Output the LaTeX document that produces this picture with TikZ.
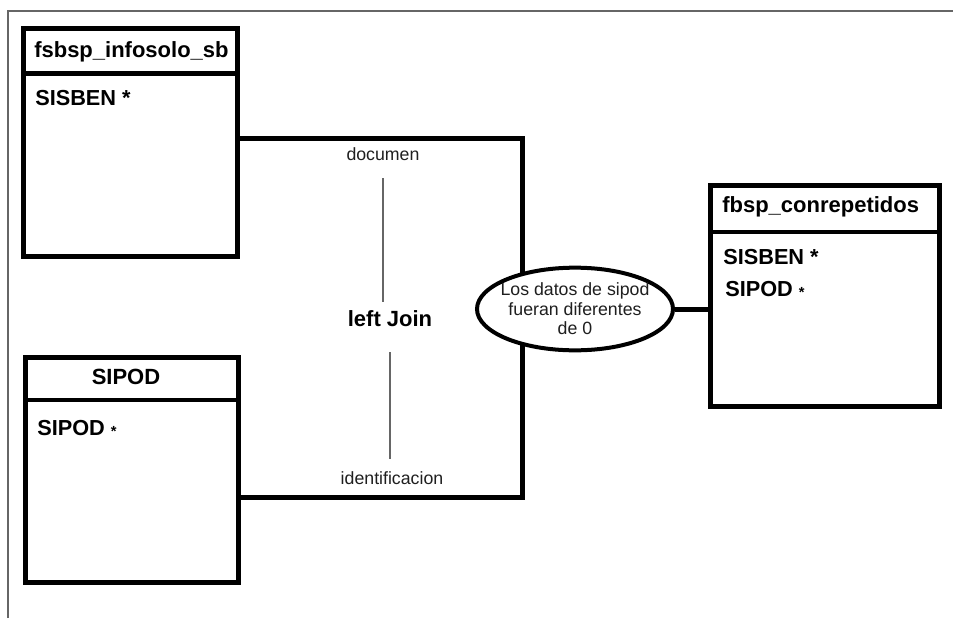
\documentclass[tikz,border=0pt]{standalone}
\usepackage{fontspec}
\setmainfont{Liberation Sans}
\usetikzlibrary{shapes.geometric,fit,backgrounds}
\newcommand{\keystar}{\raisebox{-0.1ex}{\fontsize{11}{11}\selectfont *}}
\begin{document}
\begin{tikzpicture}[x=0.75pt, y=-0.75pt,
  tablebox/.style={draw, line width=3.5pt, inner sep=0pt},
  titletext/.style={font=\bfseries\fontsize{16.5}{19}\selectfont, anchor=west, inner sep=0pt},
  fieldtext/.style={font=\bfseries\fontsize{16.3}{19}\selectfont, anchor=west, inner sep=0pt},
  joinlabel/.style={font=\fontsize{13.3}{15}\selectfont, text=black!88, inner sep=0pt},
  conn/.style={line width=3.75pt},
  thinline/.style={black!60, line width=0.8pt},
  frameline/.style={black!60, line width=1.2pt},
  condition/.style={draw, ellipse, line width=3pt, fill=white, minimum width=147pt,
    minimum height=62pt, inner xsep=-5pt, inner ysep=0pt, align=center,
    font=\fontsize{13.3}{14.6}\selectfont, text=black!88}]
  \useasboundingbox (0,0) rectangle (953,618);

  % Ramka
  \draw[frameline] (8,618) -- (8,11) -- (953,11);

  % Tabla fsbsp_infosolo_sb
  \node[tablebox, fit={(23.5,28.5) (237.5,256.5)}] (infosolo) {};
  \node[tablebox, fit={(23.5,28.5) (237.5,73.5)}] (infosolohead) {};
  \node[titletext] (infosolotitle) at (34,52) {fsbsp\_infosolo\_sb};
  \node[fieldtext] (infosolosisben) at (35,98) {SISBEN *};

  % Tabla SIPOD
  \node[tablebox, fit={(25.5,357.5) (238.5,582.5)}] (sipod) {};
  \node[tablebox, fit={(25.5,357.5) (238.5,400)}] (sipodhead) {};
  \node[titletext, anchor=center] (sipodtitle) at (126,377) {SIPOD};
  \node[fieldtext] (sipodfield) at (37,428) {SIPOD \keystar};

  % Tabla fbsp_conrepetidos
  \node[tablebox, fit={(710.5,185.5) (939.5,406.5)}] (conrep) {};
  \node[tablebox, fit={(710.5,185.5) (939.5,232)}] (conrephead) {};
  \node[titletext] (conreptitle) at (722,207) {fbsp\_conrepetidos};
  \node[fieldtext] (conrepsisben) at (723,257) {SISBEN *};
  \node[fieldtext] (conrepsipod) at (725,289) {SIPOD \keystar};

  % Condicion
  \node[condition] (cond) at (575,309) {Los datos de sipod\\fueran diferentes\\de 0};

  % Etiquetas del join
  \node[joinlabel] (documen) at (383,154) {documen};
  \node[font=\bfseries\fontsize{16.5}{19}\selectfont, inner sep=0pt] (leftjoin) at (390,319) {left Join};
  \node[joinlabel] (identif) at (392,478) {identificacion};
  \draw[thinline, shorten <=13pt, shorten >=6.75pt] (documen.south) -- (documen.south |- leftjoin.north);
  \draw[thinline, shorten <=18.75pt, shorten >=9.4pt] (leftjoin.south) -- (leftjoin.south |- identif.north);

  % Conectores
  \begin{scope}[on background layer]
    \coordinate (jointop) at (522,138);
    \coordinate (joinbot) at (522,497);
    \draw[conn] (infosolo.east |- jointop) -- (jointop) -- (jointop |- cond.center);
    \draw[conn] (sipod.east |- joinbot) -- (joinbot) -- (joinbot |- cond.center);
  \end{scope}
  \draw[conn] (cond.east) -- (conrep.west |- cond.east);
\end{tikzpicture}
\end{document}
